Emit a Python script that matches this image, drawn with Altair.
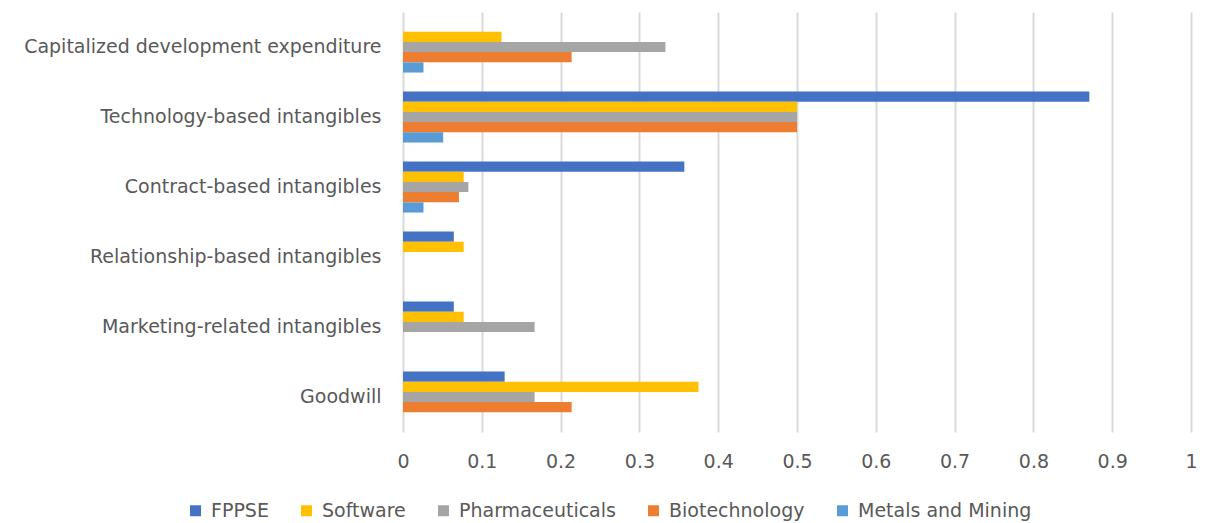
import altair as alt
import pandas as pd

categories = [
    "Capitalized development expenditure",
    "Technology-based intangibles",
    "Contract-based intangibles",
    "Relationship-based intangibles",
    "Marketing-related intangibles",
    "Goodwill",
]
series = ["FPPSE", "Software", "Pharmaceuticals", "Biotechnology", "Metals and Mining"]
colors = ["#4472C4", "#FFC000", "#A5A5A5", "#ED7D31", "#5B9BD5"]

fppse = [0.0, 0.871, 0.357, 0.0645, 0.0645, 0.129]
software = [0.125, 0.5, 0.077, 0.077, 0.077, 0.375]
pharma = [0.333, 0.5, 0.083, 0.0, 0.167, 0.167]
biotech = [0.214, 0.5, 0.071, 0.0, 0.0, 0.214]
metals = [0.026, 0.051, 0.026, 0.0, 0.0, 0.0]

values = [fppse, software, pharma, biotech, metals]
rows = []
for s, vals in zip(series, values):
    for c, v in zip(categories, vals):
        rows.append({"category": c, "series": s, "value": v})
df = pd.DataFrame(rows)

FONT = "DejaVu Sans"
TXT = "#595959"
FS = 19

chart = alt.Chart(df).mark_bar().encode(
    y=alt.Y("category:N", sort=categories,
            scale=alt.Scale(paddingInner=0.27, paddingOuter=0.135),
            axis=alt.Axis(title=None, ticks=False, domain=False, labelPadding=22,
                          labelFontSize=FS, labelColor=TXT, labelFont=FONT,
                          labelLimit=500)),
    yOffset=alt.YOffset("series:N", sort=series, scale=alt.Scale(paddingInner=0, paddingOuter=0)),
    x=alt.X("value:Q", scale=alt.Scale(domain=[0, 1], nice=False),
            axis=alt.Axis(title=None, values=[i / 10 for i in range(11)], format="~g",
                          ticks=False, domain=False, grid=True, gridColor="#D9D9D9",
                          gridWidth=2, labelPadding=20, labelFontSize=FS, labelFlush=False,
                          labelColor=TXT, labelFont=FONT)),
    color=alt.Color("series:N", sort=series,
                    scale=alt.Scale(domain=series, range=colors),
                    legend=alt.Legend(title=None, orient="none", direction="horizontal",
                                      legendX=-217, legendY=489, symbolType="square",
                                      symbolSize=121, symbolStrokeWidth=0,
                                      labelFontSize=FS, labelColor=TXT, labelFont=FONT,
                                      labelLimit=400, columnPadding=28, symbolOffset=0,
                                      labelOffset=6)),
).properties(
    width=788, height=420,
    autosize=alt.AutoSizeParams(type="none"),
    padding={"left": 395, "top": 4, "right": 9, "bottom": 100},
).configure_view(stroke=None)

chart.save("out.html", embed_options={"renderer": "svg", "actions": False})
